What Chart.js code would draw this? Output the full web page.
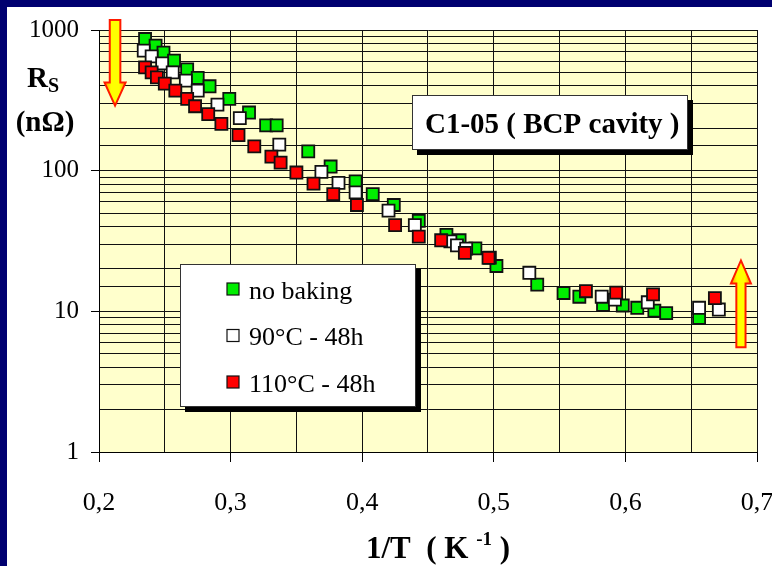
<!DOCTYPE html>
<html>
<head>
<meta charset="utf-8">
<script src="https://cdn.jsdelivr.net/npm/chart.js@4.4.1/dist/chart.umd.min.js"></script>
<style>
  html, body { margin: 0; padding: 0; width: 772px; height: 566px; overflow: hidden; background: #000070; }
  #panel { position: absolute; left: 7px; top: 7px; width: 765px; height: 559px; background: #fff; }
  #graph { position: absolute; left: 0; top: 0; }
</style>
</head>
<body>
<div id="panel"></div>
<canvas id="graph" width="772" height="566"></canvas>
<script>
// 1/T (K^-1) and Rs (nOhm) for each treatment
var invTempNoBake = [0.235, 0.243, 0.249, 0.257, 0.267, 0.275, 0.284, 0.299, 0.314, 0.327,
                     0.335, 0.359, 0.376, 0.395, 0.408, 0.424, 0.443, 0.464, 0.474, 0.486,
                     0.502, 0.533, 0.553, 0.565, 0.583, 0.598, 0.609, 0.622, 0.631, 0.656];
var rsNoBake = [863, 774, 690, 605, 525, 456, 398, 324, 259, 210,
                210, 137, 107, 84, 68, 57, 44, 35, 32, 28,
                21, 15.5, 13.5, 12.7, 11.1, 11.0, 10.6, 10.1, 9.7, 9.0];

var invTemp90 = [0.234, 0.240, 0.248, 0.256, 0.266, 0.275, 0.290, 0.307, 0.337, 0.369,
                 0.382, 0.395, 0.420, 0.440, 0.467, 0.472, 0.479, 0.497, 0.527, 0.582,
                 0.592, 0.617, 0.656, 0.671];
var rs90 = [713, 650, 579, 500, 437, 371, 295, 236, 153, 98,
            82, 70, 52, 41, 31.4, 29.4, 27.9, 24.1, 18.8, 12.7,
            12.1, 11.6, 10.6, 10.3];

var invTemp110 = [0.235, 0.240, 0.244, 0.250, 0.258, 0.267, 0.273, 0.283, 0.293, 0.306,
                  0.318, 0.331, 0.338, 0.350, 0.363, 0.378, 0.396, 0.425, 0.443, 0.460,
                  0.478, 0.496, 0.570, 0.593, 0.621, 0.668];
var rs110 = [543, 500, 461, 416, 371, 324, 287, 252, 215, 179,
             149, 126, 114, 97, 81, 68, 57, 41, 34, 32,
             26, 24, 13.9, 13.6, 13.2, 12.4];

var seriesLabels = ['no baking', '90°C - 48h', '110°C - 48h'];
var xTickLabels = ['0,2', '0,3', '0,4', '0,5', '0,6', '0,7'];
var yTickLabels = ['1', '10', '100', '1000'];

var serif = '"Liberation Serif", "Times New Roman", serif';
Chart.defaults.font.family = serif;
Chart.defaults.color = '#000';

function pairs(xs, ys) {
  return xs.map(function (x, i) { return { x: x, y: ys[i] }; });
}

function isTenth(v) {
  return Math.abs(v * 10 - Math.round(v * 10)) < 1e-6;
}
function isDecade(v) {
  var l = Math.log10(v);
  return Math.abs(l - Math.round(l)) < 1e-6;
}

// yellow filled arrow with red outline, drawn between two values on the axes
function drawArrow(ctx, cx, tailY, tipY, shaftHalf, headHalf, headLen) {
  var dir = tipY > tailY ? 1 : -1;
  var baseY = tipY - dir * headLen;
  ctx.save();
  var grad = ctx.createLinearGradient(cx - headHalf, 0, cx + headHalf, 0);
  grad.addColorStop(0, '#ff8a00');
  grad.addColorStop(0.3, '#ffff00');
  grad.addColorStop(0.7, '#ffff00');
  grad.addColorStop(1, '#ff8a00');
  ctx.beginPath();
  ctx.moveTo(cx - shaftHalf, tailY);
  ctx.lineTo(cx + shaftHalf, tailY);
  ctx.lineTo(cx + shaftHalf, baseY);
  ctx.lineTo(cx + headHalf, baseY);
  ctx.lineTo(cx, tipY);
  ctx.lineTo(cx - headHalf, baseY);
  ctx.lineTo(cx - shaftHalf, baseY);
  ctx.closePath();
  ctx.fillStyle = grad;
  ctx.fill();
  ctx.lineWidth = 2;
  ctx.strokeStyle = '#ff1a00';
  ctx.stroke();
  ctx.restore();
}

function shadowBox(ctx, x, y, w, h) {
  ctx.fillStyle = '#000';
  ctx.fillRect(x + 5, y + 5, w, h);
  ctx.fillStyle = '#fff';
  ctx.fillRect(x, y, w, h);
  ctx.lineWidth = 1;
  ctx.strokeStyle = '#333';
  ctx.strokeRect(x + 0.5, y + 0.5, w - 1, h - 1);
}

const plotBackground = {
  id: 'plotBackground',
  beforeDraw(chart) {
    const a = chart.chartArea;
    const ctx = chart.ctx;
    ctx.save();
    ctx.fillStyle = '#ffffcc';
    ctx.fillRect(a.left, a.top, a.right - a.left, a.bottom - a.top);
    ctx.restore();
  }
};

const decorations = {
  id: 'decorations',
  afterDraw(chart) {
    const ctx = chart.ctx;
    const xs = chart.scales.x, ys = chart.scales.y;

    // arrows
    drawArrow(ctx, xs.getPixelForValue(0.2122), ys.getPixelForValue(1180), ys.getPixelForValue(290), 5.3, 10.5, 23);
    drawArrow(ctx, xs.getPixelForValue(0.6878), ys.getPixelForValue(5.55), ys.getPixelForValue(23), 4.6, 10, 23);

    ctx.save();
    // title box
    shadowBox(ctx, 412, 95, 276, 55);
    ctx.fillStyle = '#000';
    ctx.font = 'bold 29px ' + serif;
    ctx.textAlign = 'left';
    ctx.textBaseline = 'alphabetic';
    ctx.fillText('C1-05 ( BCP cavity )', 425, 133);

    // legend box
    shadowBox(ctx, 180, 264, 236, 143);
    ctx.font = '26px ' + serif;
    chart.data.datasets.forEach(function (ds, i) {
      var base = 298.5 + i * 46.5;
      var cy = base - 9.5;
      ctx.fillStyle = ds.backgroundColor;
      ctx.fillRect(227, cy - 6, 12, 12);
      ctx.lineWidth = 1.2;
      ctx.strokeStyle = '#111';
      ctx.strokeRect(227, cy - 6, 12, 12);
      ctx.fillStyle = '#000';
      ctx.fillText(ds.label, 249, base);
    });

    // y axis title: Rs (nΩ)
    ctx.font = 'bold 29px ' + serif;
    ctx.fillText('R', 27, 87);
    var rw = ctx.measureText('R').width;
    ctx.font = 'bold 20px ' + serif;
    ctx.fillText('S', 27 + rw, 92);
    ctx.font = 'bold 29px ' + serif;
    ctx.textAlign = 'center';
    ctx.fillText('(n\u03A9)', 45, 131);

    // x axis title: 1/T ( K^-1 )
    ctx.textAlign = 'left';
    var partA = '1/T  ( K ', sup = '-1', partB = ' )';
    ctx.font = 'bold 31px ' + serif;
    var wA = ctx.measureText(partA).width, wB = ctx.measureText(partB).width;
    ctx.font = 'bold 19px ' + serif;
    var wS = ctx.measureText(sup).width;
    var x0 = 438 - (wA + wS + wB) / 2;
    ctx.font = 'bold 31px ' + serif;
    ctx.fillText(partA, x0, 558);
    ctx.font = 'bold 19px ' + serif;
    ctx.fillText(sup, x0 + wA, 545);
    ctx.font = 'bold 31px ' + serif;
    ctx.fillText(partB, x0 + wA + wS, 558);
    ctx.restore();
  }
};

const pointStyleOpts = {
  pointStyle: 'rect',
  pointRadius: 8.5,
  pointHoverRadius: 8.5,
  borderWidth: 1.8,
  borderColor: '#111'
};

const chartData = {
  datasets: [
    Object.assign({ label: seriesLabels[0], data: pairs(invTempNoBake, rsNoBake), backgroundColor: '#00ee00', order: 3 }, pointStyleOpts),
    Object.assign({ label: seriesLabels[1], data: pairs(invTemp90, rs90), backgroundColor: '#ffffff', order: 2 }, pointStyleOpts),
    Object.assign({ label: seriesLabels[2], data: pairs(invTemp110, rs110), backgroundColor: '#ff0000', order: 1 }, pointStyleOpts)
  ]
};

const config = {
  type: 'scatter',
  data: chartData,
  options: {
    responsive: false,
    animation: false,
    devicePixelRatio: 1,
    layout: { padding: { top: 30, right: 15, left: 0, bottom: 0 } },
    plugins: {
      legend: { display: false },
      tooltip: { enabled: false }
    },
    scales: {
      x: {
        type: 'linear',
        min: 0.2,
        max: 0.7,
        ticks: {
          stepSize: 0.05,
          autoSkip: false,
          maxRotation: 0,
          padding: 26,
          font: { size: 26 },
          color: '#000',
          callback: function (v) {
            if (!isTenth(v)) return '';
            return xTickLabels[Math.round(v * 10) - 2];
          }
        },
        grid: {
          color: '#111',
          lineWidth: 1,
          tickLength: 10,
          tickColor: function (ctx) {
            return ctx.tick && isTenth(ctx.tick.value) ? '#000' : 'rgba(0,0,0,0)';
          }
        },
        border: { color: '#000', width: 1 },
        afterFit: function (s) { s.height = 114; s.paddingLeft = 0; s.paddingRight = 0; }
      },
      y: {
        type: 'logarithmic',
        min: 1,
        max: 1000,
        ticks: {
          autoSkip: false,
          padding: 12,
          font: { size: 25 },
          color: '#000',
          callback: function (v) {
            if (!isDecade(v)) return '';
            return yTickLabels[Math.round(Math.log10(v))];
          }
        },
        grid: {
          color: '#111',
          lineWidth: 1,
          tickLength: 8,
          tickColor: function (ctx) {
            return ctx.tick && isDecade(ctx.tick.value) ? '#000' : 'rgba(0,0,0,0)';
          }
        },
        border: { color: '#000', width: 1 },
        afterFit: function (s) { s.width = 99; s.paddingTop = 0; s.paddingBottom = 0; }
      }
    }
  },
  plugins: [plotBackground, decorations]
};

var rsChart = new Chart(document.getElementById('graph'), config);
</script>
</body>
</html>
